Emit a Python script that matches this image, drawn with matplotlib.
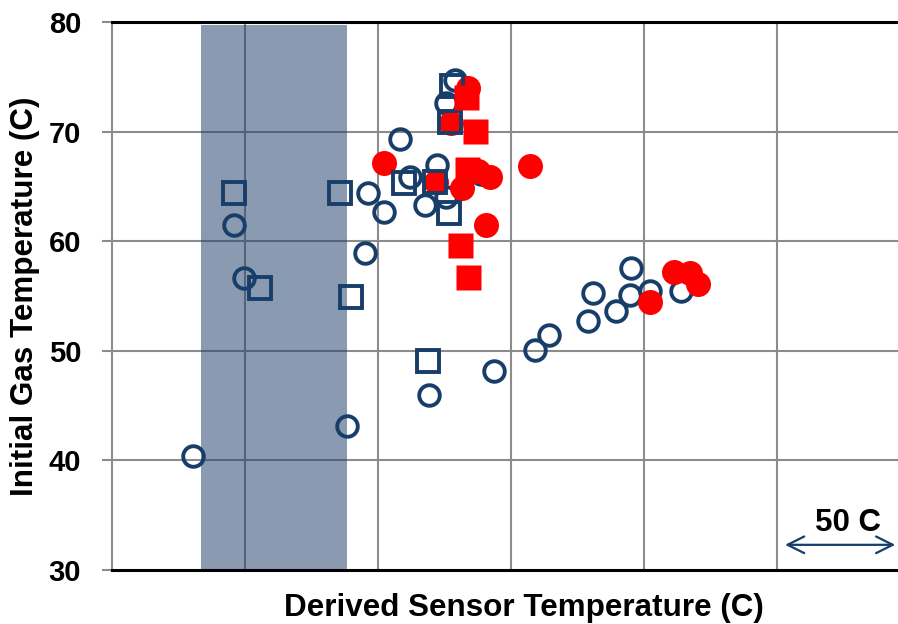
import matplotlib
matplotlib.use("Agg")
import matplotlib.pyplot as plt
from matplotlib.patches import Rectangle

plt.rcParams['font.family'] = ['Liberation Sans', 'DejaVu Sans']
plt.rcParams['font.weight'] = 'bold'

# open navy circles
circ_x = [30.4, 45.9, 49.6, 88.3, 95.1, 96.2, 102.2, 108.3, 112.0, 122.2, 117.7, 125.6, 125.6,
          128.9, 138.7, 119.2, 143.6, 159.0, 164.3, 178.9, 180.8, 189.5, 194.7, 195.1, 202.2, 213.9]
circ_y = [40.4, 61.5, 56.6, 43.1, 58.9, 64.4, 62.7, 69.3, 65.9, 67.0, 63.3, 64.0, 72.6,
          74.7, 66.1, 46.0, 48.2, 50.1, 51.4, 52.7, 55.3, 53.6, 55.1, 57.6, 55.5, 55.5]
# open navy squares
sq_x = [45.9, 55.6, 85.7, 89.8, 109.8, 121.4, 126.7, 127.8, 127.1, 118.8]
sq_y = [64.4, 55.7, 64.4, 54.9, 65.3, 65.4, 62.6, 74.2, 70.9, 49.1]
# filled red circles
rc_x = [102.2, 157.1, 133.8, 127.5, 121.8, 131.6, 142.1, 137.6, 140.6, 202.2, 211.3, 217.3, 220.3]
rc_y = [67.1, 66.9, 74.0, 70.8, 65.4, 64.9, 65.9, 66.4, 61.5, 54.5, 57.2, 57.1, 56.1]
# filled red squares
rs_x = [133.1, 136.5, 133.4, 130.8, 133.8]
rs_y = [73.2, 70.1, 66.6, 59.7, 56.7]

navy = '#173d69'
red = '#ff0000'

fig = plt.figure(figsize=(8.98, 6.24), dpi=100)
ax = fig.add_axes([0.1247, 0.0865, 0.8753, 0.8782])
ax.set_xlim(0, 295.5)
ax.set_ylim(30, 80)

# grid
for gx in [50, 100, 150, 200, 250]:
    ax.axvline(gx, color='#8c8c8c', lw=1.5, zorder=1)
for gy in [40, 50, 60, 70]:
    ax.axhline(gy, color='#8c8c8c', lw=1.5, zorder=1)

ax.add_patch(Rectangle((33.5, 30), 54.8, 49.7, facecolor='#1f3f6a', alpha=0.52,
                       edgecolor='none', zorder=2))

ax.plot(circ_x, circ_y, 'o', ms=14.8, mfc='none', mec=navy, mew=2.8, zorder=3)
ax.plot(rc_x, rc_y, 'o', ms=18, color=red, mec='none', zorder=4)
ax.plot(sq_x, sq_y, 's', ms=16.5, mfc='none', mec=navy, mew=2.8, zorder=5)
ax.plot(rs_x, rs_y, 's', ms=18, color=red, mec='none', zorder=6)

ax.annotate('', xy=(252, 32.3), xytext=(295.5, 32.3),
            arrowprops=dict(arrowstyle='<->', color=navy, lw=1.6, mutation_scale=30),
            annotation_clip=False)
ax.text(276.7, 33.6, '50 C', ha='center', va='baseline', fontsize=22.5, fontweight='bold')

ax.set_xticks([])
ax.set_yticks([30, 40, 50, 60, 70, 80])
ax.tick_params(axis='y', labelsize=21, length=7.2, color='#8c8c8c', width=1.5, pad=15)
for lab in ax.get_yticklabels():
    lab.set_fontweight('bold')

ax.spines['right'].set_visible(False)
ax.spines['top'].set_color('black')
ax.spines['top'].set_linewidth(2.2)
ax.spines['bottom'].set_color('black')
ax.spines['bottom'].set_linewidth(2.2)
ax.spines['left'].set_color('#8c8c8c')
ax.spines['left'].set_linewidth(1.5)

ax.set_xlabel('Derived Sensor Temperature (C)', fontsize=22.6, fontweight='bold')
ax.xaxis.set_label_coords(0.524, -0.042)
ax.xaxis.label.set_va('top')
ax.set_ylabel('Initial Gas Temperature (C)', fontsize=22.6, fontweight='bold')
ax.yaxis.set_label_coords(-0.0916, 0.5)

fig.savefig('out.png', dpi=100)
